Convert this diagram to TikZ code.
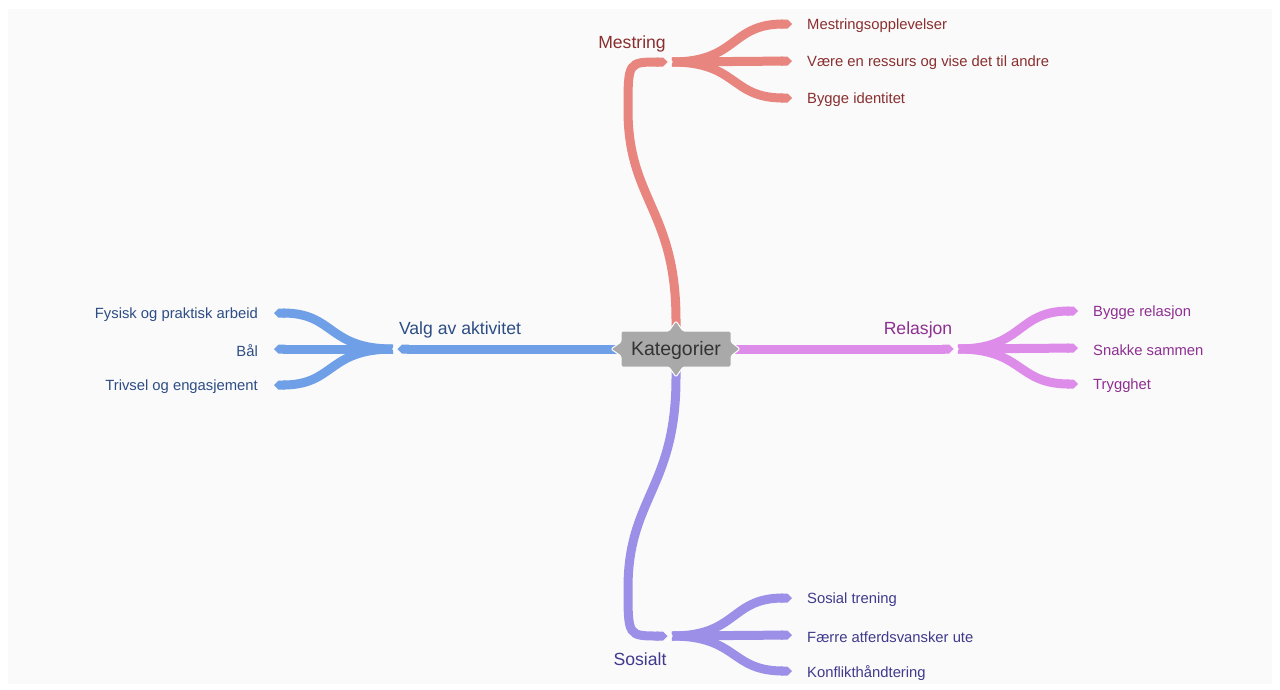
\documentclass[tikz,border=0pt]{standalone}
\usepackage{fontspec}
\setmainfont{Liberation Sans}
\usetikzlibrary{arrows.meta}
\definecolor{cred}{HTML}{E8857F}
\definecolor{cblue}{HTML}{6F9FE6}
\definecolor{cviol}{HTML}{DE8CEA}
\definecolor{cpurp}{HTML}{9C8FE7}
\definecolor{tred}{HTML}{8A2F2F}
\definecolor{tblue}{HTML}{2D4D84}
\definecolor{tviol}{HTML}{8E2F92}
\definecolor{tpurp}{HTML}{3F3A8C}
\definecolor{bgpanel}{HTML}{FAFAFA}
\definecolor{boxgray}{HTML}{A9A9A9}
\begin{document}
\begin{tikzpicture}[x=1pt,y=-1pt,
  branch/.style={line width=9pt, draw=#1, -{Triangle Cap[]}},
  trunk/.style={line width=9pt, draw=#1, -{Triangle Cap[]}},
  chev/.style={draw=white, line width=1.3pt, line join=miter},
  leafR/.style={anchor=west, font=\fontsize{14.8}{16}\selectfont, text=#1, inner sep=0pt, yshift=-2pt},
  leafL/.style={anchor=east, font=\fontsize{14.8}{16}\selectfont, text=#1, inner sep=0pt, yshift=-2pt},
  catlabel/.style={font=\fontsize{17.6}{19}\selectfont, text=#1, inner sep=0pt, yshift=-1.5pt},
]
\useasboundingbox (0,0) rectangle (1280,689);
\fill[white] (0,0) rectangle (1280,689);
\fill[bgpanel] (8,9) rectangle (1272,684);

% center node (text only; shape drawn later)
\node[inner sep=0pt, minimum width=110pt, minimum height=36pt] (kat) at (676,349) {};

% junction coordinates
\coordinate (jm) at (672,62);
\coordinate (jv) at (393,349);
\coordinate (jr) at (958,349);
\coordinate (js) at (672,636);

% leaf end coordinates
\coordinate (m1) at (792,24);
\coordinate (m2) at (792,61);
\coordinate (m3) at (792,98);
\coordinate (v1) at (274,313);
\coordinate (v2) at (274,349);
\coordinate (v3) at (274,385);
\coordinate (r1) at (1078,311);
\coordinate (r2) at (1078,348);
\coordinate (r3) at (1078,384);
\coordinate (s1) at (792,598);
\coordinate (s2) at (792,635);
\coordinate (s3) at (792,671);

% branches: Mestring
\draw[branch=cred] (jm) .. controls (738,62) and (730,24) .. (m1);
\draw[branch=cred] (jm) -- (m2);
\draw[branch=cred] (jm) .. controls (738,62) and (730,98) .. (m3);
% branches: Valg av aktivitet
\draw[branch=cblue] (jv) .. controls (327,349) and (335,313) .. (v1);
\draw[branch=cblue] (jv) -- (v2);
\draw[branch=cblue] (jv) .. controls (327,349) and (335,385) .. (v3);
% branches: Relasjon
\draw[branch=cviol] (jr) .. controls (1024,349) and (1016,311) .. (r1);
\draw[branch=cviol] (jr) -- (r2);
\draw[branch=cviol] (jr) .. controls (1024,349) and (1016,384) .. (r3);
% branches: Sosialt
\draw[branch=cpurp] (js) .. controls (738,636) and (730,598) .. (s1);
\draw[branch=cpurp] (js) -- (s2);
\draw[branch=cpurp] (js) .. controls (738,636) and (730,671) .. (s3);

% trunks
\draw[trunk=cred] (kat.center) -- (676,320) .. controls (676,210) and (628,200) .. (628,110)
   .. controls (628,62) .. ([xshift=-4.5pt]jm);
\draw[trunk=cblue] (kat.center) -- ([xshift=4.5pt]jv);
\draw[trunk=cviol] (kat.center) -- ([xshift=-4.5pt]jr);
\draw[trunk=cpurp] (kat.center) -- (676,378) .. controls (676,488) and (628,498) .. (628,588)
   .. controls (628,636) .. ([xshift=-4.5pt]js);

% chevrons at junctions
\draw[chev] ([xshift=-6pt,yshift=-6pt]jm) -- (jm) -- ([xshift=-6pt,yshift=6pt]jm);
\draw[chev] ([xshift=6pt,yshift=-6pt]jv) -- (jv) -- ([xshift=6pt,yshift=6pt]jv);
\draw[chev] ([xshift=-6pt,yshift=-6pt]jr) -- (jr) -- ([xshift=-6pt,yshift=6pt]jr);
\draw[chev] ([xshift=-6pt,yshift=-6pt]js) -- (js) -- ([xshift=-6pt,yshift=6pt]js);

% center box shape
\filldraw[fill=boxgray, draw=white, line width=1pt, rounded corners=1.5pt]
  (621,331) -- (669,331) -- (676,321) -- (683,331) -- (731,331)
  -- (731,342) -- (740,349) -- (731,356) -- (731,367)
  -- (683,367) -- (676,377) -- (669,367) -- (621,367)
  -- (621,356) -- (611,349) -- (621,342) -- cycle;
\node[font=\fontsize{19.5}{21}\selectfont, text=black!80, yshift=-1pt] at (kat.center) {Kategorier};

% category labels
\node[catlabel=tred] (lm) at (632,42) {Mestring};
\node[catlabel=tblue] (lv) at (460,328) {Valg av aktivitet};
\node[catlabel=tviol] (lr) at (918,328) {Relasjon};
\node[catlabel=tpurp] (ls) at (640,658) {Sosialt};

% leaves
\node[leafR=tred] (tm1) at (807,24) {Mestringsopplevelser};
\node[leafR=tred] (tm2) at (807,61) {Være en ressurs og vise det til andre};
\node[leafR=tred] (tm3) at (807,98) {Bygge identitet};
\node[leafL=tblue] (tv1) at (258,313) {Fysisk og praktisk arbeid};
\node[leafL=tblue] (tv2) at (258,349) {Bål};
\node[leafL=tblue] (tv3) at (258,385) {Trivsel og engasjement};
\node[leafR=tviol] (tr1) at (1093,311) {Bygge relasjon};
\node[leafR=tviol] (tr2) at (1093,348) {Snakke sammen};
\node[leafR=tviol] (tr3) at (1093,384) {Trygghet};
\node[leafR=tpurp] (ts1) at (807,598) {Sosial trening};
\node[leafR=tpurp] (ts2) at (807,635) {Færre atferdsvansker ute};
\node[leafR=tpurp] (ts3) at (807,671) {Konflikthåndtering};
\end{tikzpicture}
\end{document}
